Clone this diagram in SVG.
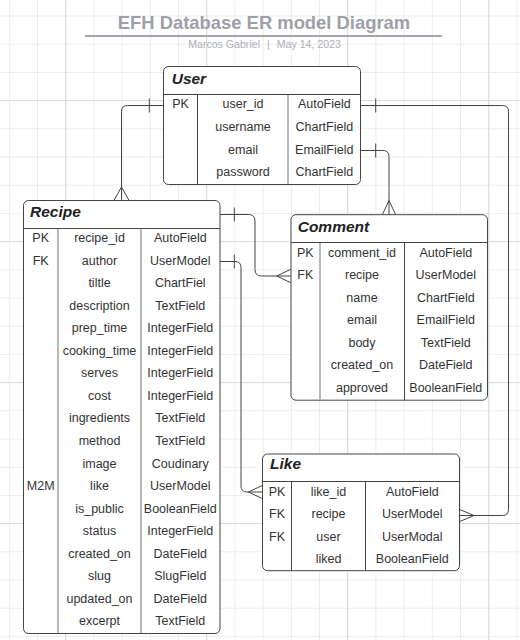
<svg xmlns="http://www.w3.org/2000/svg" width="520" height="640" viewBox="0 0 520 640">
<style>
text{font-family:"Liberation Sans",Arial,sans-serif}
.t{font-size:12.5px;fill:#333;text-anchor:middle}
.h{font-size:15.5px;font-weight:bold;font-style:italic;fill:#222}
.box{fill:#fff;stroke:#444;stroke-width:1}
.dk{fill:none;stroke:#444;stroke-width:1}
.lt{fill:none;stroke:#a8a8a8;stroke-width:1.6}
.c{fill:none;stroke:#444;stroke-width:1}
.minor{stroke:#ececec;stroke-width:1}
.major{stroke:#dadada;stroke-width:1}
</style>
<defs>
<pattern id="grid" patternUnits="userSpaceOnUse" x="-4.8" y="1.9" width="28.2" height="28.2">
<path d="M14.1 0V28.2M0 14.1H28.2" class="minor"/>
</pattern>
</defs>
<rect width="520" height="640" fill="#fff"/>
<rect width="520" height="640" fill="url(#grid)"/>
<g class="major">
<path d="M65.7 0V640M206.7 0V640M347.7 0V640M488.7 0V640M0 100.6H520M0 241.6H520M0 382.6H520M0 523.6H520"/>
</g>
<g id="title">
<text x="264" y="29.3" text-anchor="middle" style="font-size:18.4px;font-weight:bold;fill:#9ea0a8">EFH Database ER model Diagram</text>
<path d="M85 36H442" stroke="#a3a6ae" stroke-width="2"/>
<text x="260" y="48.3" text-anchor="end" style="font-size:10.6px;fill:#aeb0b8">Marcos Gabriel</text>
<text x="268.3" y="48.3" text-anchor="middle" style="font-size:10.6px;fill:#aeb0b8">|</text>
<text x="276.7" y="48.3" style="font-size:10.6px;fill:#aeb0b8">May 14, 2023</text>
</g>
<g id="connectors">
<path class="c" d="M163.3 105.5H127.5Q121.5 105.5 121.5 111.5V200.3M149.3 98.5V112.5M114 200.3L121.5 187L129 200.3"/>
<path class="c" d="M360.7 105.5H502.5Q508.5 105.5 508.5 111.5V509.5Q508.5 515.5 502.5 515.5H459.3M375.7 98.5V112.5M459.3 509.3L474 515.5L459.3 521.7"/>
<path class="c" d="M360.7 150.5H383Q389 150.5 389 156.5V214.7M375.7 143.5V157.5M382.3 214.7L389 200.5L395.7 214.7"/>
<path class="c" d="M220 214.5H248.5Q255 214.5 255 221V269.5Q255 276 261.5 276H290.7M234.3 207.5V221.5M290.7 269.3L276.7 276L290.7 282.7"/>
<path class="c" d="M220 261.5H235Q241 261.5 241 267.5V486Q241 492 247 492H262.3M234.3 254.5V268.5M262.3 485.5L248.3 492L262.3 498.5"/>
</g>
<g id="user">
<rect class="box" x="163.5" y="66.5" width="197" height="118" rx="5"/>
<path class="dk" d="M163.5 94.5H360.5M197.5 94.5V184.5"/>
<path class="lt" d="M288 95V184"/>
<text class="h" x="171.7" y="84">User</text>
<text class="t" x="180.5" y="108.3">PK</text>
<text class="t" x="243" y="108.3">user_id</text>
<text class="t" x="324.3" y="108.3">AutoField</text>
<text class="t" x="243" y="131">username</text>
<text class="t" x="324.3" y="131">ChartField</text>
<text class="t" x="243" y="153.5">email</text>
<text class="t" x="324.3" y="153.5">EmailField</text>
<text class="t" x="243" y="176">password</text>
<text class="t" x="324.3" y="176">ChartField</text>
</g>
<g id="recipe">
<rect class="box" x="23.5" y="200.5" width="196.5" height="433" rx="5"/>
<path class="dk" d="M23.5 228.5H220"/>
<path class="lt" d="M58 229V633M141 229V633"/>
<text class="h" x="30" y="216.7">Recipe</text>
<text class="t" x="40.7" y="242">PK</text>
<text class="t" x="40.7" y="264.6">FK</text>
<text class="t" x="40.7" y="490.1">M2M</text>
<text class="t" x="99.5" y="242">recipe_id</text>
<text class="t" x="99.5" y="264.6">author</text>
<text class="t" x="99.5" y="287.1">tiltle</text>
<text class="t" x="99.5" y="309.7">description</text>
<text class="t" x="99.5" y="332.2">prep_time</text>
<text class="t" x="99.5" y="354.8">cooking_time</text>
<text class="t" x="99.5" y="377.3">serves</text>
<text class="t" x="99.5" y="399.9">cost</text>
<text class="t" x="99.5" y="422.4">ingredients</text>
<text class="t" x="99.5" y="445">method</text>
<text class="t" x="99.5" y="467.5">image</text>
<text class="t" x="99.5" y="490.1">like</text>
<text class="t" x="99.5" y="512.6">is_public</text>
<text class="t" x="99.5" y="535.2">status</text>
<text class="t" x="99.5" y="557.7">created_on</text>
<text class="t" x="99.5" y="580.3">slug</text>
<text class="t" x="99.5" y="602.8">updated_on</text>
<text class="t" x="99.5" y="625.4">excerpt</text>
<text class="t" x="180.3" y="242">AutoField</text>
<text class="t" x="180.3" y="264.6">UserModel</text>
<text class="t" x="180.3" y="287.1">ChartFiel</text>
<text class="t" x="180.3" y="309.7">TextField</text>
<text class="t" x="180.3" y="332.2">IntegerField</text>
<text class="t" x="180.3" y="354.8">IntegerField</text>
<text class="t" x="180.3" y="377.3">IntegerField</text>
<text class="t" x="180.3" y="399.9">IntegerField</text>
<text class="t" x="180.3" y="422.4">TextField</text>
<text class="t" x="180.3" y="445">TextField</text>
<text class="t" x="180.3" y="467.5">Coudinary</text>
<text class="t" x="180.3" y="490.1">UserModel</text>
<text class="t" x="180.3" y="512.6">BooleanField</text>
<text class="t" x="180.3" y="535.2">IntegerField</text>
<text class="t" x="180.3" y="557.7">DateField</text>
<text class="t" x="180.3" y="580.3">SlugField</text>
<text class="t" x="180.3" y="602.8">DateField</text>
<text class="t" x="180.3" y="625.4">TextField</text>
</g>
<g id="comment">
<rect class="box" x="291" y="214.7" width="196.5" height="185.5" rx="5"/>
<path class="dk" d="M291 242.5H487.5M404.5 242.5V400.2"/>
<path class="lt" d="M320 243V399.7"/>
<text class="h" x="297.7" y="231.7">Comment</text>
<text class="t" x="305.3" y="256.6">PK</text>
<text class="t" x="305.3" y="279.1">FK</text>
<text class="t" x="362" y="256.6">comment_id</text>
<text class="t" x="362" y="279.1">recipe</text>
<text class="t" x="362" y="301.6">name</text>
<text class="t" x="362" y="324.1">email</text>
<text class="t" x="362" y="346.6">body</text>
<text class="t" x="362" y="369.1">created_on</text>
<text class="t" x="362" y="391.6">approved</text>
<text class="t" x="445.8" y="256.6">AutoField</text>
<text class="t" x="445.8" y="279.1">UserModel</text>
<text class="t" x="445.8" y="301.6">ChartField</text>
<text class="t" x="445.8" y="324.1">EmailField</text>
<text class="t" x="445.8" y="346.6">TextField</text>
<text class="t" x="445.8" y="369.1">DateField</text>
<text class="t" x="445.8" y="391.6">BooleanField</text>
</g>
<g id="like">
<rect class="box" x="262.5" y="454" width="197" height="116.7" rx="5"/>
<path class="dk" d="M262.5 481.5H459.5M291.5 481.5V570.7M365.5 481.5V570.7"/>
<text class="h" x="270" y="469">Like</text>
<text class="t" x="277" y="496">PK</text>
<text class="t" x="277" y="518.4">FK</text>
<text class="t" x="277" y="541">FK</text>
<text class="t" x="328.5" y="496">like_id</text>
<text class="t" x="328.5" y="518.4">recipe</text>
<text class="t" x="328.5" y="541">user</text>
<text class="t" x="328.5" y="563.4">liked</text>
<text class="t" x="412.3" y="496">AutoField</text>
<text class="t" x="412.3" y="518.4">UserModel</text>
<text class="t" x="412.3" y="541">UserModal</text>
<text class="t" x="412.3" y="563.4">BooleanField</text>
</g>
</svg>
